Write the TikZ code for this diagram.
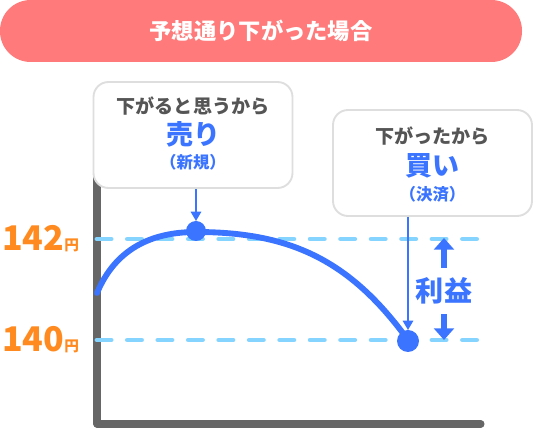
\documentclass[tikz,border=0pt]{standalone}
\usepackage{fontspec}
\newfontfamily\jp{Noto Sans CJK JP}
\usetikzlibrary{arrows.meta}
\definecolor{banner}{HTML}{FF7B7B}
\definecolor{lineblue}{HTML}{3A74FF}
\definecolor{dashblue}{HTML}{85D3FF}
\definecolor{priceorange}{HTML}{FF8A1F}
\definecolor{axisgray}{HTML}{666666}
\definecolor{textgray}{HTML}{555555}
\tikzset{
  notebox/.style={draw=black!13, line width=1.6pt, fill=white, rounded corners=0.45cm, inner sep=0pt, minimum width=5.97cm, minimum height=3.18cm},
  pricedash/.style={dashblue, line width=4.2pt, line cap=round, dash pattern=on 12 off 14},
  pointer/.style={lineblue, line width=1.3pt, -{Triangle[length=8pt,width=9pt]}},
  profit/.style={lineblue, line width=5pt, -{Triangle[length=10pt,width=17pt]}}
}

\begin{document}
\begin{tikzpicture}[x=0.03cm, y=-0.03cm]
		%%%%% START %%%%%
		\useasboundingbox (0,0) rectangle (550,430);
		
		\fill[banner, rounded corners=0.92cm] (0,0) rectangle (522,62);
		\node[text=white, font=\jp\bfseries\fontsize{19}{19}\selectfont] (title) at (261,31) {予想通り下がった場合};
		
		\draw[axisgray, line width=6pt, line cap=round, line join=round] (97,165) -- (97,424) -- (481,424);
		
		\draw[pricedash] (97,239) -- (491,239);
		\draw[pricedash] (97,340) -- (491,340);
		
		\node[anchor=west, text=priceorange, font=\jp\bfseries\fontsize{29}{29}\selectfont, inner sep=0pt] (high) at (2,239) {142\fontsize{12.5}{12.5}\selectfont 円};
		\node[anchor=west, text=priceorange, font=\jp\bfseries\fontsize{29}{29}\selectfont, inner sep=0pt] (low) at (2,340) {140\fontsize{12.5}{12.5}\selectfont 円};
		
		\draw[lineblue, line width=5pt, line cap=round] (97,293) .. controls (115,250) and (150,232) .. (196,232) .. controls (290,232) and (350,260) .. (408,340);
		\fill[lineblue] (196,231) circle (10) coordinate (sell);
		\fill[lineblue] (408,341) circle (11) coordinate (buy);
		
		\node[notebox] (sellbox) at (193,135) {};
		\node[text=textgray, font=\jp\bfseries\fontsize{16.3}{16.3}\selectfont] at (193,106) {下がると思うから};
		\node[text=lineblue, font=\jp\bfseries\fontsize{23}{23}\selectfont] at (193,134) {売り};
		\node[text=lineblue, font=\jp\bfseries\fontsize{14}{14}\selectfont] at (193,162) {（新規）};
		
		\node[notebox] (buybox) at (432.5,163) {};
		\node[text=textgray, font=\jp\bfseries\fontsize{16.3}{16.3}\selectfont] at (432.5,136) {下がったから};
		\node[text=lineblue, font=\jp\bfseries\fontsize{23}{23}\selectfont] at (432.5,166) {買い};
		\node[text=lineblue, font=\jp\bfseries\fontsize{14}{14}\selectfont] at (432.5,194) {（決済）};
		
		\draw[pointer] (sellbox.south -| sell) -- ([yshift=0.3cm]sell);
		\draw[pointer] (buybox.south -| buy) -- ([yshift=0.33cm]buy);
		
		\node[text=lineblue, font=\jp\bfseries\fontsize{24}{24}\selectfont] (gain) at (444,291) {利益};
		\draw[profit] (gain.north) ++(0,-6) -- (444,238);
		\draw[profit] (gain.south) ++(0,6) -- (444,340);
		%%%%% END %%%%%
	\end{tikzpicture}
\end{document}
